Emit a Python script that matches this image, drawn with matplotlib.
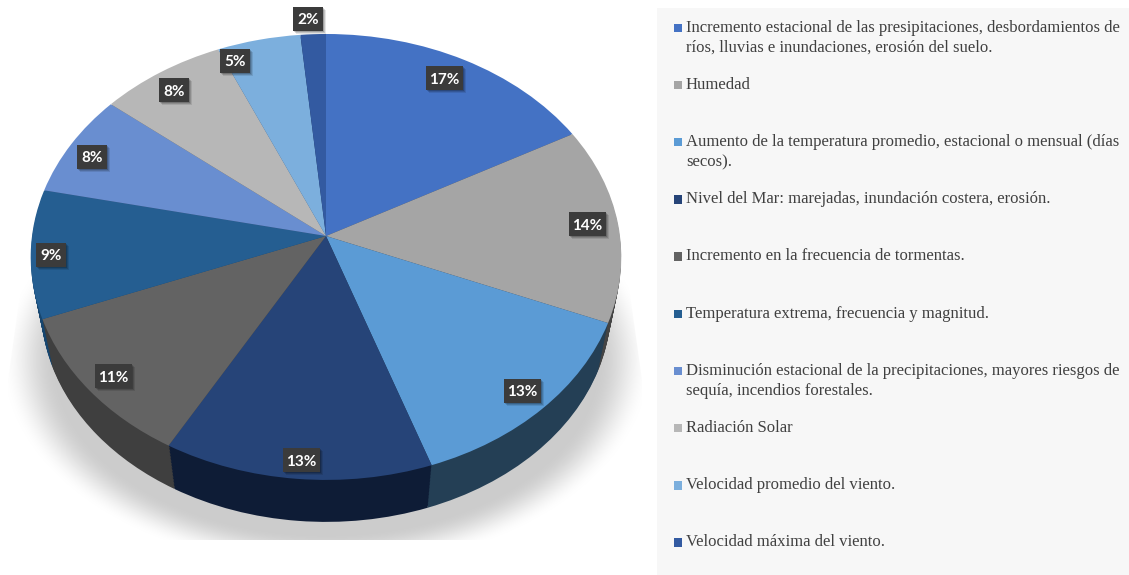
import numpy as np
import matplotlib
matplotlib.use("Agg")
import matplotlib.pyplot as plt
from matplotlib.patches import Rectangle, Polygon
from matplotlib.transforms import Transform

# ---- data -------------------------------------------------------------
categories = [
    "Incremento estacional de las presipitaciones, desbordamientos de\nríos, lluvias e inundaciones, erosión del suelo.",
    "Humedad",
    "Aumento de la temperatura promedio, estacional o mensual (días\nsecos).",
    "Nivel del Mar: marejadas, inundación costera, erosión.",
    "Incremento en la frecuencia de tormentas.",
    "Temperatura extrema, frecuencia y magnitud.",
    "Disminución estacional de la precipitaciones, mayores riesgos de\nsequía, incendios forestales.",
    "Radiación Solar",
    "Velocidad promedio del viento.",
    "Velocidad máxima del viento.",
]
shares = [17.0, 14.2, 13.49, 13.49, 10.9, 9.3, 7.5, 7.6, 5.0, 1.52]
top_colors = ["#4472C4", "#A5A5A5", "#5B9BD5", "#264478", "#636363",
              "#255E91", "#698ED0", "#B7B7B7", "#7CAFDD", "#335AA1"]
wall_colors = ["#223A64", "#444444", "#243F55", "#0E1C36", "#3F3F3F",
               "#17466F", "#3A4F78", "#5A5A5A", "#3F5A78", "#1C325A"]

# ---- layout -----------------------------------------------------------
W, H = 1129, 575
CX, CY = 326.0, 236.0
RX, RY, K = 294.0, 221.0, 0.094
label_xy = [(444, 78), (587, 224), (522, 391), (301, 460), (113, 376),
            (51, 255), (92, 157), (174, 90), (235, 61), (308, 19)]
DEPTH, BASE_SCALE, N_LAYERS = 50.5, 0.965, 30


class Persp(Transform):
    """Tilted-disc view of the unit pie, in image pixels."""
    input_dims = output_dims = 2
    is_separable = False
    has_inverse = False

    def __init__(self, t=0.0):
        super().__init__()
        self.t = t

    def transform_non_affine(self, v):
        v = np.asarray(v, float)
        d = 1 + K * v[:, 1]
        sc = 1 - (1 - BASE_SCALE) * self.t
        return np.column_stack([CX + sc * RX * v[:, 0] / d,
                                CY - sc * RY * v[:, 1] / d + DEPTH * self.t])


fig = plt.figure(figsize=(W / 100, H / 100), dpi=100, facecolor="white")
ax = fig.add_axes([0, 0, 1, 1])

# soft shadow under the disc
yy, xx = np.mgrid[0:H, 0:W]
r = np.hypot((xx - 326) / 325.0, (yy - 360) / 209.0)
t = np.clip((1 - r) / 0.17, 0, 1)
rgba = np.zeros((H, W, 4))
rgba[..., :3] = 0.80
rgba[..., 3] = t * t * (3 - 2 * t)
shadow = ax.imshow(rgba, extent=(0, W, H, 0), zorder=0, interpolation="bilinear")
clip = Polygon([(22, 280), (628, 280), (642, 380), (642, 540), (8, 540), (8, 380)],
               closed=True, transform=ax.transData)
shadow.set_clip_path(clip)

# wall: stacked copies of the pie, bottom up
for i, tt in enumerate(np.linspace(1, 0.03, N_LAYERS)):
    wedges, _ = ax.pie(shares, colors=wall_colors, startangle=90, counterclock=False,
                       wedgeprops=dict(linewidth=0.3, edgecolor="none"))
    for w in wedges:
        w.set_transform(Persp(tt) + ax.transData)
        w.set_zorder(1 + i * 0.01)

# top face
wedges, _, autotexts = ax.pie(shares, colors=top_colors, startangle=90, counterclock=False,
                              autopct="%.0f%%", wedgeprops=dict(linewidth=0))
for w in wedges:
    w.set_transform(Persp(0.0) + ax.transData)
    w.set_zorder(2)

# labels
for txt, (x, y) in zip(autotexts, label_xy):
    s = txt.get_text()
    bw = 37 if len(s) == 3 else 30
    for off, a in ((3.0, 0.10), (2.0, 0.14), (1.0, 0.18)):
        ax.add_patch(Rectangle((x - bw / 2 + off, y - 12 + off), bw, 24, facecolor="black",
                               alpha=a, linewidth=0, zorder=3))
    ax.add_patch(Rectangle((x - bw / 2, y - 12), bw, 24, facecolor="#3B3B3B",
                           linewidth=0, zorder=3.1))
    txt.set_position((x, y))
    txt.set(ha="center", va="center_baseline", color="white", fontweight="bold",
            family="Lato", fontsize=11, zorder=4)

# legend panel
ax.add_patch(Rectangle((657, 8), W - 657, H - 8, facecolor="#F7F7F7", linewidth=0, zorder=5))
for i, (cat, col) in enumerate(zip(categories, top_colors)):
    y0 = 27.5 + 57.2 * i
    ax.add_patch(Rectangle((673.5, y0 - 4), 8.5, 8.5, facecolor=col, linewidth=0, zorder=6))
    for j, line in enumerate(cat.split("\n")):
        ax.text(686, y0 + 20 * j, line, family="Liberation Serif", fontsize=11.96,
                color="#404040", ha="left", va="center", zorder=6)

ax.set_aspect("auto")
ax.set_xlim(0, W)
ax.set_ylim(H, 0)
ax.axis("off")
fig.savefig("out.png", dpi=100, facecolor="white")
